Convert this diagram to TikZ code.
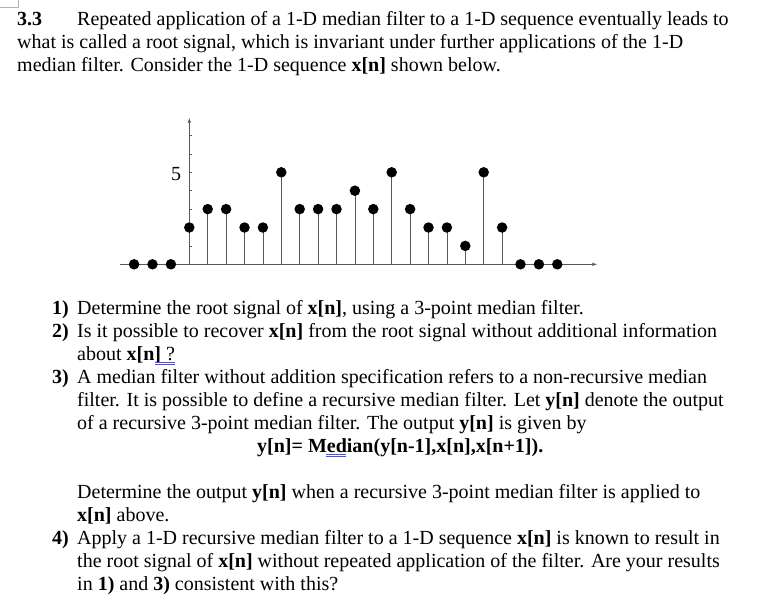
\documentclass[tikz,border=0pt]{standalone}
\usepackage{fontspec}
\setmainfont{Liberation Serif}
\begin{document}
\begin{tikzpicture}[x=1pt,y=-1pt,
  txt/.style={anchor=base west,inner sep=0pt,font=\fontsize{20}{23}\selectfont},
  ax/.style={gray!70!black,line width=0.6pt},
  stem/.style={gray!70!black,line width=0.6pt},
  dot/.style={circle,fill=black,inner sep=0pt,minimum size=10.5pt}]
\useasboundingbox (0,0) rectangle (781,606);
\draw[gray!60] (0,7) -- (18,7) -- (18,0);
% text
\node[txt] (h1) at (17,25) {\textbf{3.3}};
\node[txt] (t1) at (77,25) {Repeated application of a 1-D median filter to a 1-D sequence eventually leads to};
\node[txt] (t2) at (17,48) {what is called a root signal, which is invariant under further applications of the 1-D};
\node[txt] (t3) at (17,71) {median filter. Consider the 1-D sequence \textbf{x[n]} shown below.};
\node[txt] (n1) at (52,314) {\textbf{1)}};
\node[txt] (a1) at (77,314) {Determine the root signal of \textbf{x[n]}, using a 3-point median filter.};
\node[txt] (n2) at (52,337) {\textbf{2)}};
\node[txt] (a2) at (77,337) {Is it possible to recover \textbf{x[n]} from the root signal without additional information};
\node[txt] (a2b) at (77,360) {about \textbf{x[n]} ?};
\draw[blue!70,line width=0.5pt] (155,362) -- (175,362) (155,364) -- (175,364);
\node[txt] (n3) at (52,383) {\textbf{3)}};
\node[txt] (a3) at (77,383) {A median filter without addition specification refers to a non-recursive median};
\node[txt] (a3b) at (77,406) {filter. It is possible to define a recursive median filter. Let \textbf{y[n]} denote the output};
\node[txt] (a3c) at (77,429) {of a recursive 3-point median filter. The output \textbf{y[n]} is given by};
\node[txt] (eq) at (257,452) {\textbf{y[n]= Median(y[n-1],x[n],x[n+1]).}};
\draw[blue!70,line width=0.5pt] (326,454) -- (346,454) (326,456) -- (346,456);
\node[txt] (a3d) at (77,498) {Determine the output \textbf{y[n]} when a recursive 3-point median filter is applied to};
\node[txt] (a3e) at (77,521) {\textbf{x[n]} above.};
\node[txt] (n4) at (52,544) {\textbf{4)}};
\node[txt] (a4) at (77,544) {Apply a 1-D recursive median filter to a 1-D sequence \textbf{x[n]} is known to result in};
\node[txt] (a4b) at (77,567) {the root signal of \textbf{x[n]} without repeated application of the filter. Are your results};
\node[txt] (a4c) at (77,590) {in \textbf{1)} and \textbf{3)} consistent with this?};
% plot
\coordinate (o) at (189.3,264.3);
\coordinate (xe) at (597,264.3);
\coordinate (ye) at (189.3,118);
\draw[ax,-latex] (120,264.3) -- (xe);
\draw[ax,-latex] (o) -- (ye);
\foreach \k in {1,...,7} \draw[ax] (189.3,264.3-18.4*\k) -- ++(3,0);
\node[font=\fontsize{20}{23}\selectfont,inner sep=0pt] (five) at (176,174) {5};
\foreach \n/\v in {0/2,1/3,2/3,3/2,4/2,5/5,6/3,7/3,8/3,9/4,10/3,11/5,12/3,13/2,14/2,15/1,16/5,17/2}{
  \draw[stem] (189.3+18.4*\n,264.3) -- (189.3+18.4*\n,264.3-18.4*\v);
  \node[dot] (p\n) at (189.3+18.4*\n,264.3-18.4*\v) {};
}
\foreach \n in {-3,-2,-1,18,19,20} \node[dot] (q\n) at (189.3+18.4*\n,264.3) {};
\end{tikzpicture}
\end{document}
